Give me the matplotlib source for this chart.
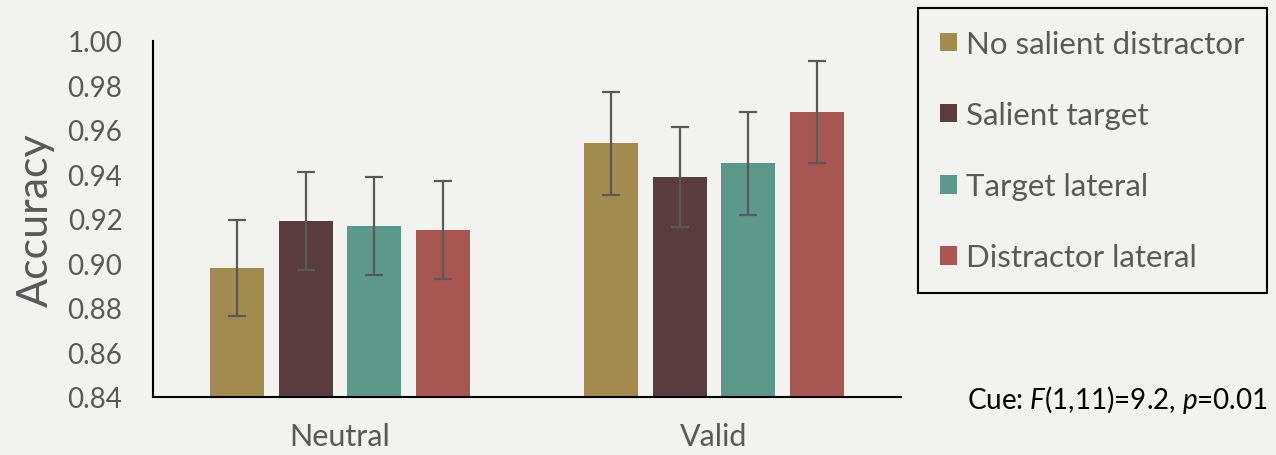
import matplotlib
matplotlib.use("Agg")
import matplotlib.pyplot as plt
import numpy as np

plt.rcParams['font.family'] = ['Lato', 'DejaVu Sans']
plt.rcParams['mathtext.fontset'] = 'custom'
plt.rcParams['mathtext.rm'] = 'Lato'
plt.rcParams['mathtext.it'] = 'Lato:italic'

# Data
cue_conditions = ["Neutral", "Valid"]
series_names = ["No salient distractor", "Salient target", "Target lateral", "Distractor lateral"]
no_salient = [0.898, 0.954]
salient_target = [0.919, 0.939]
target_lateral = [0.917, 0.945]
distractor_lateral = [0.915, 0.968]
err_no_salient = [0.0215, 0.023]
err_salient_target = [0.022, 0.0225]
err_target_lateral = [0.022, 0.023]
err_distractor_lateral = [0.022, 0.023]
yticks = [0.84, 0.86, 0.88, 0.90, 0.92, 0.94, 0.96, 0.98, 1.00]
annotation = r"Cue: $\it{F}$(1,11)=9.2, $\it{p}$=0.01"

values = [no_salient, salient_target, target_lateral, distractor_lateral]
errors = [err_no_salient, err_salient_target, err_target_lateral, err_distractor_lateral]
colors = ["#A38B4F", "#5A3C40", "#5C988C", "#A75652"]

bg = "#F2F2F0"
gray = "#595959"

fig = plt.figure(figsize=(12.76, 4.56), dpi=100, facecolor=bg)
ax = fig.add_axes([0.1199, 0.1272, 0.5862, 0.7807], facecolor=bg)

x = np.arange(len(cue_conditions))
step = 0.184
width = 0.144
for i, (vals, errs, c, name) in enumerate(zip(values, errors, colors, series_names)):
    pos = x + (i - 1.5) * step
    ax.bar(pos, np.array(vals) - 0.84, width=width, bottom=0.84, color=c, label=name, zorder=2)
    ax.errorbar(pos, vals, yerr=errs, fmt='none', ecolor=gray, elinewidth=1.6,
                capsize=6.5, capthick=1.6, zorder=3)

ax.set_xlim(-0.5, 1.5)
ax.set_ylim(0.84, 1.00)
ax.set_yticks(yticks)
ax.set_yticklabels([f"{t:.2f}" for t in yticks])
ax.set_xticks(x)
ax.set_xticklabels(cue_conditions)
ax.tick_params(axis='both', length=0, colors=gray)
ax.tick_params(axis='y', pad=22, labelsize=20)
ax.tick_params(axis='x', pad=18, labelsize=22)
ax.set_ylabel("Accuracy", fontsize=31, color=gray, labelpad=9)

for s in ['top', 'right']:
    ax.spines[s].set_visible(False)
for s in ['left', 'bottom']:
    ax.spines[s].set_color('black')
    ax.spines[s].set_linewidth(1.5)

leg = fig.legend(loc='upper left', bbox_to_anchor=(0.7194, 0.980),
                 bbox_transform=fig.transFigure, fontsize=22.5, frameon=True,
                 fancybox=False, edgecolor='black', facecolor=bg, framealpha=1,
                 handlelength=0.55, handleheight=0.55, handletextpad=0.3,
                 labelspacing=1.38, borderpad=0.7, borderaxespad=0)
leg.get_frame().set_linewidth(1.5)
for t in leg.get_texts():
    t.set_color(gray)

fig.text(0.9935, 0.123, annotation, ha='right', va='center', fontsize=20, color='black')

fig.savefig("out.png", dpi=100, facecolor=bg)
